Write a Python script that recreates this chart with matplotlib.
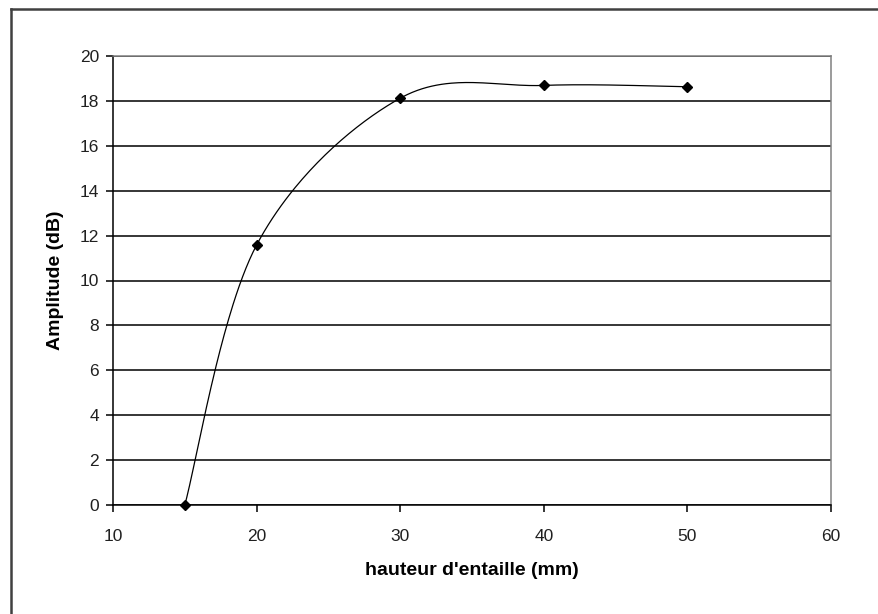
import numpy as np
import matplotlib
matplotlib.use("Agg")
import matplotlib.pyplot as plt
from matplotlib.lines import Line2D

plt.rcParams['font.family'] = ['Liberation Sans', 'DejaVu Sans']

# données
hauteur = [15, 20, 30, 40, 50]
amplitude = [0.0, 11.58, 18.12, 18.69, 18.63]
xticks = [10, 20, 30, 40, 50, 60]
yticks = [0, 2, 4, 6, 8, 10, 12, 14, 16, 18, 20]


# lissage façon Excel (Bezier avec tangentes de Catmull-Rom)
def lissage(x, y, n=60):
    p = np.column_stack([x, y]).astype(float)
    pts = []
    for i in range(len(p) - 1):
        p0 = p[i - 1] if i > 0 else p[i]
        p3 = p[i + 2] if i + 2 < len(p) else p[i + 1]
        c1 = p[i] + (p[i + 1] - p0) / 6
        c2 = p[i + 1] - (p3 - p[i]) / 6
        t = np.linspace(0, 1, n)[:, None]
        seg = ((1 - t) ** 3 * p[i] + 3 * (1 - t) ** 2 * t * c1
               + 3 * (1 - t) * t ** 2 * c2 + t ** 3 * p[i + 1])
        pts.append(seg if i == 0 else seg[1:])
    pts = np.vstack(pts)
    return pts[:, 0], pts[:, 1]


fig = plt.figure(figsize=(8.79, 6.14), dpi=100)
ax = fig.add_axes([113 / 879, 1 - 505 / 614, 718 / 879, 449 / 614])

xs, ys = lissage(hauteur, amplitude)
ax.plot(xs, ys, color='black', lw=0.9, zorder=3)
ax.plot(hauteur, amplitude, linestyle='none', marker='D', ms=5.5,
        color='black', zorder=4, clip_on=False)

ax.set_xlim(10, 60)
ax.set_ylim(0, 20)
ax.set_xticks(xticks)
ax.set_yticks(yticks)
ax.yaxis.grid(True, color='black', lw=1.1)
ax.set_axisbelow(True)

ax.spines['left'].set_color('black')
ax.spines['bottom'].set_color('black')
ax.spines['right'].set_color('#808080')
ax.spines['top'].set_color('#808080')
for s in ax.spines.values():
    s.set_linewidth(1.1)

ax.tick_params(axis='both', direction='out', length=5, width=1.1,
               labelsize=12.5, colors='black', labelcolor='#202020')
ax.tick_params(axis='x', pad=12)
ax.tick_params(axis='y', pad=5)

ax.set_xlabel("hauteur d'entaille (mm)", fontsize=14, fontweight='bold',
              labelpad=13)
ax.set_ylabel("Amplitude (dB)", fontsize=14, fontweight='bold', labelpad=11)

# cadre extérieur du graphique (coupé à droite et en bas)
fig.add_artist(Line2D([10.5 / 879, 10.5 / 879], [0, 1 - 8.5 / 614],
                      transform=fig.transFigure, color='#404040', lw=1.8,
                      solid_capstyle='projecting'))
fig.add_artist(Line2D([10.5 / 879, 1], [1 - 8.5 / 614, 1 - 8.5 / 614],
                      transform=fig.transFigure, color='#404040', lw=1.8,
                      solid_capstyle='projecting'))

fig.savefig('out.png', dpi=100, facecolor='white')
